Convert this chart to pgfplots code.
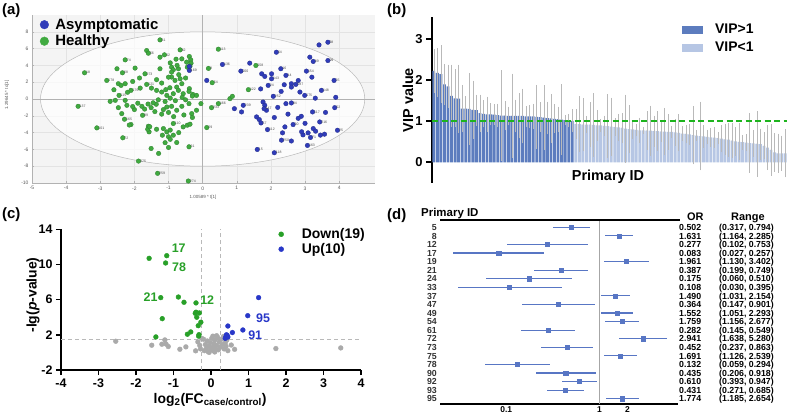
\documentclass[border=0pt]{standalone}
\usepackage{pgfplots}
\usepackage{pgfplotstable}
\pgfplotsset{compat=1.18}
\usepackage{fontspec}
\setmainfont{Liberation Sans}
\newcommand{\fs}[1]{\fontsize{#1}{#1}\selectfont}
\definecolor{agreen}{RGB}{64,170,64}
\definecolor{ablue}{RGB}{48,60,185}
\definecolor{bdark}{RGB}{92,124,190}
\definecolor{blight}{RGB}{182,198,228}
\definecolor{vgreen}{RGB}{30,180,30}
\definecolor{cgreen}{RGB}{40,160,40}
\definecolor{cblue}{RGB}{40,55,200}
\definecolor{cgray}{RGB}{170,170,170}
\definecolor{dblue}{RGB}{88,118,196}
\definecolor{ebar}{RGB}{185,185,185}
\pgfplotsset{/pgf/number format/assume math mode=true}

% ---------- panel (a) data ----------
\pgfplotstableread{
x y l
-1.25 7.04 61
-0.66 5.85 62
0.46 5.93 113
-2.27 4.66 74
-3.46 3.12 18
-2.81 2.21 178
-2.10 1.03 176
-1.64 1.74 121
-2.45 0.43 115
-2.29 -2.41 165
-1.76 -1.94 99
0.26 -1.03 233
0.46 -0.55 166
1.34 1.11 122
0.17 3.64 9
0.28 1.94 54
1.56 3.99 158
-3.65 -0.87 137
-3.10 -3.44 101
-2.34 -4.62 72
-0.86 -2.92 110
0.12 -3.40 29
-0.40 -5.69 31
-1.88 -7.39 375
-1.32 -8.85 259
-0.42 -9.76 274
-1.69 3.00 273
-2.35 3.12 68
-1.59 5.45 56
-1.12 5.26 42
}\greenlab
\pgfplotstableread{
x y
-1.64 5.77
-1.25 4.98
-0.78 4.74
-0.61 4.78
-0.39 5.06
-0.35 4.66
-0.47 4.39
-0.34 4.27
-2.51 3.60
-1.98 3.68
-2.47 1.82
-2.39 1.62
-2.27 1.82
-2.05 2.09
-1.83 1.30
-1.20 1.90
-0.91 3.79
-0.86 3.48
-0.91 3.20
-0.71 3.60
-0.45 3.79
-0.37 3.91
-0.91 2.61
-0.81 2.21
-0.66 2.41
-0.61 1.82
-0.96 1.34
-1.08 1.11
-1.35 1.03
-1.20 0.83
-0.76 1.42
-1.05 0.43
-0.86 0.63
-0.71 1.03
-0.57 0.63
-0.39 1.23
-0.18 0.43
-0.29 0.55
-2.71 -0.28
-2.56 -0.16
-2.27 -0.16
-2.47 -1.03
-2.22 -0.75
-2.37 -1.74
-2.00 -1.26
-1.78 -0.87
-1.51 -1.03
-1.36 -0.63
-1.15 -1.26
-1.05 -0.95
-0.91 -0.87
-0.76 -1.34
-0.61 -0.87
-0.40 -0.55
-0.18 -1.34
-0.32 -1.74
-0.05 -0.55
0.80 0.04
0.87 0.32
-2.10 -3.04
-1.59 -3.24
-1.57 -3.91
-1.61 -3.60
-1.15 -3.52
-1.18 -4.31
-1.05 -3.91
-1.00 -4.50
-0.86 -4.31
-0.57 -3.32
-0.45 -3.12
-0.37 -3.00
-1.51 -5.89
-1.29 -6.48
-1.00 -5.77
-0.76 -5.18
-1.45 -0.45
-1.30 -0.10
-1.10 -0.30
-0.95 0.10
-0.80 -0.20
-0.60 0.20
-0.50 -0.10
-0.30 0.35
-1.60 -0.60
-1.90 -0.50
-2.05 -0.90
-1.70 -1.20
-1.40 -1.50
-1.20 -1.80
-1.00 -1.60
-0.85 -2.10
-0.55 -1.90
-0.30 -2.20
-1.35 2.30
-1.00 2.60
-0.70 2.90
-0.50 2.50
-1.25 3.60
-0.95 4.30
-0.75 4.00
-1.85 2.50
-2.20 0.80
-2.60 1.10
-1.50 1.30
-0.40 0.90
-2.15 -3.10
-1.55 -3.30
-1.35 -3.60
-0.95 -3.70
-0.70 -4.00
-1.10 -5.20
-0.95 -4.80
}\greenunl
\pgfplotstableread{
x y l
3.67 6.76 38
2.16 5.57 64
3.24 4.47 89
3.67 4.58 99
0.58 4.11 136
1.12 3.32 200
2.29 3.60 16
2.44 2.81 44
2.02 2.41 143
3.04 3.32 154
3.85 2.21 35
1.92 1.62 24
2.73 1.74 187
2.99 0.43 175
3.48 1.03 148
2.07 0.32 252
-0.39 3.40 169
1.19 -0.75 239
1.80 -1.15 147
2.60 -0.47 84
3.87 -1.03 52
3.22 -1.54 117
1.71 -2.85 57
1.90 -3.64 112
2.65 -3.04 30
3.43 -2.73 216
3.16 -4.58 71
3.95 -3.72 25
2.31 -4.90 250
3.07 -5.53 163
1.60 -6.01 15
2.10 -6.40 118
}\bluelab
\pgfplotstableread{
x y
3.41 6.44
3.14 4.98
1.38 4.27
1.73 3.00
1.82 2.69
2.02 3.00
2.39 1.70
2.60 1.82
2.60 1.42
2.85 0.83
-0.39 3.87
0.12 2.21
0.93 -1.15
1.14 -1.54
1.77 -0.36
1.82 -0.75
1.87 -1.34
2.44 -0.55
1.58 -2.13
1.66 -2.45
2.41 -3.32
2.89 -2.06
2.94 -4.27
3.09 -4.03
3.24 -3.52
3.31 -3.83
3.57 -4.19
2.34 -4.03
2.20 -1.00
2.50 -1.80
2.80 -2.30
3.00 -2.90
2.10 -2.20
3.60 -1.60
3.30 0.10
2.80 2.20
3.20 2.60
1.70 1.20
2.30 0.90
3.90 0.20
2.90 -3.90
3.45 -4.30
2.60 -5.00
}\blueunl

% ---------- panel (b) data ----------
\pgfplotstableread{
i v e
1 2.23 0.50
2 2.18 0.57
3 2.15 0.68
4 1.90 0.47
5 1.85 0.50
6 1.62 0.73
7 1.56 0.68
8 1.55 0.80
9 1.31 0.55
10 1.31 0.27
11 1.30 0.85
12 1.28 0.68
13 1.27 0.35
14 1.20 0.42
15 1.18 0.30
16 1.17 0.40
17 1.17 0.24
18 1.16 0.22
19 1.15 0.25
20 1.14 1.07
21 1.14 0.33
22 1.13 0.20
23 1.13 1.00
24 1.13 0.37
25 1.13 0.52
26 1.13 0.64
27 1.12 0.22
28 1.12 0.25
29 1.12 0.28
30 1.11 0.75
31 1.10 0.33
32 1.09 0.76
33 1.08 0.37
34 1.07 0.57
35 1.06 0.32
36 1.05 0.28
37 1.04 0.83
38 1.03 0.10
39 1.02 0.13
40 1.01 0.25
}\vipdark
\pgfplotstableread{
i v e
41 0.93 0.33
42 0.93 0.65
43 0.92 0.62
44 0.92 0.18
45 0.92 0.52
46 0.91 0.75
47 0.90 0.35
48 0.90 0.12
49 0.89 0.22
50 0.88 0.75
51 0.87 0.68
52 0.86 0.18
53 0.85 0.30
54 0.84 0.33
55 0.82 0.80
56 0.81 0.55
57 0.80 0.20
58 0.79 0.12
59 0.78 0.28
60 0.78 0.05
61 0.77 0.45
62 0.77 0.58
63 0.76 0.35
64 0.76 0.45
65 0.75 0.22
66 0.75 0.55
67 0.74 0.40
68 0.74 0.12
69 0.73 0.30
70 0.72 0.42
71 0.70 0.15
72 0.69 0.20
73 0.68 0.22
74 0.66 0.68
75 0.65 0.10
76 0.64 0.81
77 0.63 0.25
78 0.62 0.15
79 0.61 0.20
80 0.60 0.22
81 0.59 0.12
82 0.58 0.30
83 0.56 0.35
84 0.55 0.38
85 0.53 0.40
86 0.51 0.32
87 0.50 0.42
88 0.49 0.15
89 0.48 0.18
90 0.47 0.70
91 0.46 0.30
92 0.45 0.77
93 0.44 0.35
94 0.40 0.30
95 0.36 0.52
96 0.30 0.60
97 0.24 0.44
98 0.22 0.45
99 0.22 0.40
100 0.22 0.56
}\viplight

% ---------- panel (c) data ----------
\pgfplotstableread{
x y
-1.65 10.70
-1.18 11.00
-1.21 10.17
-1.34 6.23
-0.87 6.30
-0.72 5.70
-0.40 5.63
-1.30 3.84
-0.40 4.57
-0.31 4.49
-0.38 4.00
-0.27 3.43
-0.34 3.04
-0.54 2.33
-0.63 2.07
-0.32 2.02
-1.47 1.76
-0.33 1.85
-0.42 4.45
}\cdown
\pgfplotstableread{
x y
1.27 6.23
0.98 4.18
0.85 2.55
0.45 3.00
0.57 2.26
0.43 1.95
0.40 1.80
0.38 1.60
0.45 1.75
0.41 2.00
}\cup
\pgfplotstableread{
x y
-0.35 1.2
-0.30 0.8
-0.28 0.4
-0.20 1.5
-0.18 0.2
-0.15 0.9
-0.12 0.5
-0.10 1.3
-0.08 0.1
-0.05 0.7
-0.02 1.1
0.00 0.3
0.02 1.6
0.05 0.6
0.07 0.2
0.08 1.0
0.10 1.4
0.12 0.4
0.15 0.8
0.18 1.7
0.20 0.3
0.22 1.2
0.25 0.6
0.28 1.5
0.30 0.9
0.33 1.8
0.35 0.4
0.38 1.1
0.40 0.7
0.42 1.4
0.15 1.9
0.05 1.85
-0.05 0.0
0.10 0.05
-0.25 1.6
0.45 0.2
-2.54 1.27
-1.58 0.82
-1.31 0.93
-1.23 1.42
-1.14 0.67
-0.83 0.36
-0.67 0.63
-0.41 0.18
0.54 0.84
0.63 0.35
1.73 0.44
3.46 0.51
-1.20 0.96
}\cns

% ---------- panel (d) data ----------
\pgfplotstableread{
y or lo hi
21 0.502 0.317 0.794
20 1.631 1.164 2.285
19 0.277 0.102 0.753
18 0.083 0.027 0.257
17 1.961 1.130 3.402
16 0.387 0.199 0.749
15 0.175 0.060 0.510
14 0.108 0.030 0.395
13 1.490 1.031 2.154
12 0.364 0.147 0.901
11 1.552 1.051 2.293
10 1.759 1.156 2.677
9 0.282 0.145 0.549
8 2.941 1.638 5.280
7 0.452 0.237 0.863
6 1.691 1.126 2.539
5 0.132 0.059 0.294
4 0.435 0.206 0.918
3 0.610 0.393 0.947
2 0.431 0.271 0.685
1 1.774 1.185 2.654
}\forest

\begin{document}
\begin{tikzpicture}
\path[use as bounding box] (0bp,0bp) rectangle (789bp,-418bp);

% panel labels
\node[anchor=west,inner sep=0,font=\fs{15}\bfseries] at (2bp,-11bp) {(a)};
\node[anchor=west,inner sep=0,font=\fs{15}\bfseries] at (387bp,-11bp) {(b)};
\node[anchor=west,inner sep=0,font=\fs{15}\bfseries] at (2bp,-215bp) {(c)};
\node[anchor=west,inner sep=0,font=\fs{15}\bfseries] at (387bp,-216bp) {(d)};

% ================= (a) =================
\begin{axis}[at={(32bp,-183bp)}, anchor=south west, scale only axis,
  width=343bp, height=168bp,
  xmin=-5, xmax=5.05, ymin=-10, ymax=10,
  xtick={-5,...,4}, ytick={-10,-8,...,8},
  axis background/.style={fill=gray!9},
  grid=major, grid style={gray!22, line width=0.3bp},
  axis x line*=bottom, axis y line*=left,
  axis line style={-, gray!60, line width=0.5bp},
  tick style={gray!60, line width=0.4bp}, major tick length=2bp,
  tick label style={font=\fs{5}, text=gray!70!black},
  xlabel={1.00589 * t[1]}, ylabel={1.29645 * to[1]},
  xlabel style={font=\fs{4.5}, text=gray!70!black, at={(axis description cs:0.4985,-0.0875)}, anchor=center},
  ylabel style={font=\fs{4.5}, text=gray!70!black, at={(axis description cs:-0.073,0.524)}, anchor=center},
  legend style={at={(axis description cs:0.023,0.985)}, anchor=north west, draw=none, fill=none,
    inner sep=0pt, outer sep=0pt, font=\fs{15}\bfseries, row sep=2.2bp,
    nodes={inner sep=1bp}},
  legend cell align=left,
  legend image code/.code={\fill[#1] (0bp,0bp) circle (4.3bp); \path[draw=none,fill=none] (-4.3bp,0bp) rectangle (10bp,0.1bp);},
]
\draw[gray!55, line width=0.5bp, fill=white, fill opacity=0.75] (axis cs:0,0) ellipse [x radius=4.75, y radius=8];
\addplot[gray!60, line width=0.6bp, forget plot] coordinates {(0,-10) (0,10)};
\addplot[gray!60, line width=0.6bp, forget plot] coordinates {(-5,0) (5.05,0)};
\addlegendimage{ablue}
\addlegendentry{Asymptomatic}
\addlegendimage{agreen}
\addlegendentry{Healthy}
\addplot[only marks, mark=*, mark size=2.3bp, mark options={fill=agreen, draw=agreen!75!black, line width=0.3bp}, forget plot] table[x=x,y=y] {\greenunl};
\addplot[only marks, mark=*, mark size=2.3bp, mark options={fill=agreen, draw=agreen!75!black, line width=0.3bp}, forget plot,
  point meta=explicit symbolic, nodes near coords, every node near coord/.style={anchor=west, font=\fs{3.5}, text=gray!60!black, inner sep=1.5bp}] table[x=x,y=y,meta=l] {\greenlab};
\addplot[only marks, mark=*, mark size=2.3bp, mark options={fill=ablue, draw=ablue!75!black, line width=0.3bp}, forget plot] table[x=x,y=y] {\blueunl};
\addplot[only marks, mark=*, mark size=2.3bp, mark options={fill=ablue, draw=ablue!75!black, line width=0.3bp}, forget plot,
  point meta=explicit symbolic, nodes near coords, every node near coord/.style={anchor=west, font=\fs{3.5}, text=gray!60!black, inner sep=1.5bp}] table[x=x,y=y,meta=l] {\bluelab};
\end{axis}

% ================= (b) =================
\begin{axis}[at={(432bp,-182.8bp)}, anchor=south west, scale only axis,
  width=355bp, height=166.1bp,
  xmin=0.5, xmax=100.5, ymin=-0.5, ymax=3.55,
  axis x line=none, axis y line*=left,
  axis line style={-, line width=2.5bp},
  ytick={0,1,2,3}, tick align=outside, major tick length=6bp,
  tick style={line width=2bp, black},
  yticklabel style={font=\fs{13}\bfseries},
  ylabel={VIP value},
  ylabel style={font=\fs{14.5}\bfseries, at={(axis description cs:-0.068,0.498)}, anchor=center},
  bar width=0.8,
  legend style={at={(axis description cs:0.704,0.961)}, anchor=north west, draw=none, fill=none,
    inner sep=0pt, outer sep=0pt, font=\fs{14}\bfseries, row sep=4.8bp, nodes={inner sep=1bp}},
  legend cell align=left,
  legend image code/.code={\fill[#1] (0bp,-3.5bp) rectangle (20bp,3.5bp); \path[draw=none,fill=none] (0bp,0bp) rectangle (32bp,0.1bp);},
]
\addlegendimage{bdark}
\addlegendentry{VIP>1}
\addlegendimage{blight}
\addlegendentry{VIP<1}
\addplot[ybar, fill=bdark, draw=none, forget plot] table[x=i, y=v] {\vipdark};
\addplot[ybar, fill=blight, draw=none, forget plot] table[x=i, y=v] {\viplight};
\addplot[color=ebar, only marks, mark=*, mark size=0.01bp, forget plot,
  error bars/.cd, y dir=both, y explicit,
  error bar style={line width=0.5bp, color=ebar},
  error mark options={line width=0.5bp, color=ebar, mark size=1.2bp}]
  table[x=i, y=v, y error=e] {\vipdark};
\addplot[color=ebar, only marks, mark=*, mark size=0.01bp, forget plot,
  error bars/.cd, y dir=both, y explicit,
  error bar style={line width=0.5bp, color=ebar},
  error mark options={line width=0.5bp, color=ebar, mark size=1.2bp}]
  table[x=i, y=v, y error=e] {\viplight};
\addplot[vgreen, line width=1.8bp, dash pattern=on 6bp off 3.5bp, forget plot] coordinates {(0.5,1) (100.5,1)};
\end{axis}
\node[font=\fs{14.5}\bfseries] at (608bp,-176.7bp) {Primary ID};

% ================= (c) =================
\begin{axis}[at={(61bp,-370bp)}, anchor=south west, scale only axis,
  width=300bp, height=140.7bp,
  xmin=-4, xmax=4, ymin=-2, ymax=14,
  xtick={-4,...,4}, ytick={-2,2,...,14},
  axis x line*=bottom, axis y line*=left,
  axis line style={-, line width=2bp},
  tick align=outside, major tick length=5bp,
  tick style={line width=1.6bp, black},
  tick label style={font=\fs{12.5}\bfseries},
  xlabel={log\textsubscript{2}(FC\textsubscript{case/control})},
  ylabel={-lg(\textit{p}-value)},
  xlabel style={font=\fs{14}\bfseries, at={(axis description cs:0.497,-0.213)}, anchor=center},
  ylabel style={font=\fs{14}\bfseries, at={(axis description cs:-0.093,0.533)}, anchor=center},
  legend style={at={(axis description cs:0.725,1.013)}, anchor=north west, draw=none, fill=none,
    inner sep=0pt, outer sep=0pt, font=\fs{14}\bfseries, row sep=1.3bp, nodes={inner sep=1bp}},
  legend cell align=left,
  legend image code/.code={\fill[#1] (0bp,0bp) circle (2.5bp); \path[draw=none,fill=none] (-2.5bp,0bp) rectangle (19.7bp,0.1bp);},
  clip=false,
]
\addlegendimage{cgreen}
\addlegendentry{Down(19)}
\addlegendimage{cblue}
\addlegendentry{Up(10)}
\addplot[gray!55, line width=1bp, dash pattern=on 4bp off 3bp, forget plot] coordinates {(-0.26,-2) (-0.26,14)};
\addplot[gray!55, line width=1bp, dash pattern=on 4bp off 3bp, forget plot] coordinates {(0.26,-2) (0.26,14)};
\addplot[gray!55, line width=1bp, dash pattern=on 4bp off 3bp, forget plot] coordinates {(-4,1.5) (4,1.5)};
\addplot[only marks, mark=*, mark size=2.4bp, mark options={fill=cgray, draw=cgray}, forget plot] table[x=x,y=y] {\cns};
\addplot[only marks, mark=*, mark size=2.4bp, mark options={fill=cgreen, draw=cgreen}, forget plot] table[x=x,y=y] {\cdown};
\addplot[only marks, mark=*, mark size=2.4bp, mark options={fill=cblue, draw=cblue}, forget plot] table[x=x,y=y] {\cup};
\node[font=\fs{12.5}\bfseries, text=cgreen] at (axis cs:-0.86,11.9) {17};
\node[font=\fs{12.5}\bfseries, text=cgreen] at (axis cs:-0.85,9.72) {78};
\node[font=\fs{12.5}\bfseries, text=cgreen] at (axis cs:-1.61,6.30) {21};
\node[font=\fs{12.5}\bfseries, text=cgreen] at (axis cs:-0.10,5.93) {12};
\node[font=\fs{12.5}\bfseries, text=cblue] at (axis cs:1.39,3.84) {95};
\node[font=\fs{12.5}\bfseries, text=cblue] at (axis cs:1.18,1.90) {91};
\end{axis}

% ================= (d) =================
\begin{axis}[at={(440bp,-404bp)}, anchor=south west, scale only axis,
  width=238bp, height=184bp,
  xmode=log, xmin=0.0194, xmax=7.0, ymin=0.38, ymax=21.85,
  axis x line*=bottom, axis y line=none,
  axis line style={-, line width=2.2bp},
  xtick={0.1,1,2}, xticklabels={0.1,1,2}, minor xtick={},
  major tick length=0bp,
  xticklabel style={font=\fs{8.5}\bfseries, yshift=1bp},
  ytick=\empty,
]
\addplot[gray!70, line width=1bp, forget plot] coordinates {(1,0.38) (1,21.85)};
\addplot[only marks, mark=square*, mark size=2.1bp, mark options={fill=dblue, draw=dblue}, forget plot,
  error bars/.cd, x dir=both, x explicit, error mark=none,
  error bar style={line width=1.1bp, dblue}]
  table[x=or, y=y, x error plus expr=\thisrow{hi}-\thisrow{or}, x error minus expr=\thisrow{or}-\thisrow{lo}] {\forest};
\end{axis}
\draw[line width=2bp, black] (440bp,-220bp) -- (680bp,-220bp);

\node[anchor=base west, inner sep=0, font=\fs{11.5}\bfseries] at (421bp,-216.5bp) {Primary ID};
\node[anchor=base west, inner sep=0, font=\fs{11}\bfseries] at (687bp,-220bp) {OR};
\node[anchor=base west, inner sep=0, font=\fs{11}\bfseries] at (731bp,-220bp) {Range};
\foreach \id/\orv/\rg [count=\k] in {5/0.502/{(0.317, 0.794)}, 8/1.631/{(1.164, 2.285)}, 12/0.277/{(0.102, 0.753)},
  17/0.083/{(0.027, 0.257)}, 19/1.961/{(1.130, 3.402)}, 21/0.387/{(0.199, 0.749)}, 24/0.175/{(0.060, 0.510)},
  33/0.108/{(0.030, 0.395)}, 37/1.490/{(1.031, 2.154)}, 47/0.364/{(0.147, 0.901)}, 49/1.552/{(1.051, 2.293)},
  54/1.759/{(1.156, 2.677)}, 61/0.282/{(0.145, 0.549)}, 72/2.941/{(1.638, 5.280)}, 73/0.452/{(0.237, 0.863)},
  75/1.691/{(1.126, 2.539)}, 78/0.132/{(0.059, 0.294)}, 90/0.435/{(0.206, 0.918)}, 92/0.610/{(0.393, 0.947)},
  93/0.431/{(0.271, 0.685)}, 95/1.774/{(1.185, 2.654)}}{
  \pgfmathsetmacro\yy{-(227.3+8.57*(\k-1)+3.2)}
  \node[anchor=base east, inner sep=0, font=\fs{8.8}\bfseries, text=black!80] at (437bp,\yy bp) {\id};
  \node[anchor=base west, inner sep=0, font=\fs{8.8}\bfseries] at (679bp,\yy bp) {\orv};
  \node[anchor=base west, inner sep=0, font=\fs{8.8}\bfseries] at (719bp,\yy bp) {\rg};
}
\end{tikzpicture}
\end{document}
